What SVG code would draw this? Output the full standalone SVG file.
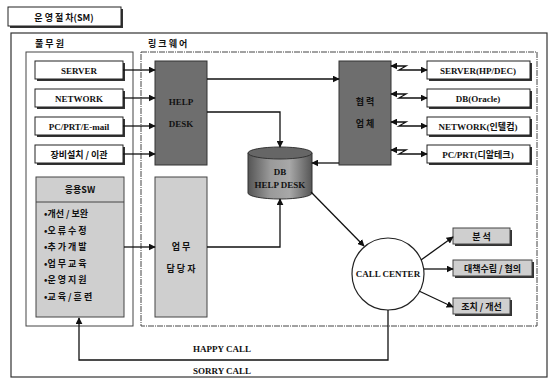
<svg xmlns="http://www.w3.org/2000/svg" width="551" height="381" viewBox="0 0 551 381">
<style>
.en{font-family:"Liberation Serif","Times New Roman",serif;font-weight:bold;font-size:9px;fill:#111}
.ko{font-family:"Noto Sans CJK KR","Noto Sans",sans-serif;font-weight:bold;font-size:9px;fill:#111}
.wbox{fill:#fff;stroke:#222;stroke-width:1}
.shadow{fill:#333}
.dark{fill:#6e6e6e;stroke:#333;stroke-width:1}
.light{fill:#cfcfcf;stroke:#444;stroke-width:1}
.panel{fill:none;stroke:#444;stroke-width:1}
.ln{fill:none;stroke:#111;stroke-width:1.3}
</style>
<defs>
<marker id="ah" viewBox="0 0 10 10" refX="9" refY="5" markerWidth="7" markerHeight="7" orient="auto-start-reverse" markerUnits="userSpaceOnUse">
<path d="M0,0 L10,5 L0,10 z" fill="#111"/>
</marker>
<linearGradient id="cyl" x1="0" y1="0" x2="1" y2="0">
<stop offset="0" stop-color="#555"/>
<stop offset="0.35" stop-color="#9a9a9a"/>
<stop offset="0.65" stop-color="#a8a8a8"/>
<stop offset="1" stop-color="#555"/>
</linearGradient>
</defs>
<rect width="551" height="381" fill="#fff"/>

<g id="title">
<rect x="10" y="9" width="113" height="19" class="shadow"/>
<rect x="8" y="7" width="113" height="19" class="wbox"/>
<text x="64" y="21" text-anchor="middle" class="ko" font-size="10.5">운 영 절 차(SM)</text>
</g>

<g id="frame">
<rect x="11" y="33" width="536" height="344" fill="none" stroke="#333" stroke-width="1.2"/>
<text x="35" y="47" class="ko" font-size="10">풀 무 원</text>
<text x="148" y="47" class="ko" font-size="10">링 크 웨 어</text>
<rect x="26" y="52" width="107" height="274" class="panel"/>
<rect x="141" y="52" width="396" height="274" class="panel" stroke-dasharray="6,1,1,1"/>
</g>

<g id="server">
<rect x="37" y="63" width="88" height="18" class="shadow"/>
<rect x="35" y="61" width="88" height="18" class="wbox"/>
<text x="79" y="73.5" text-anchor="middle" class="en">SERVER</text>
</g>
<g id="network">
<rect x="37" y="91" width="88" height="18" class="shadow"/>
<rect x="35" y="89" width="88" height="18" class="wbox"/>
<text x="79" y="101.5" text-anchor="middle" class="en">NETWORK</text>
</g>
<g id="pc">
<rect x="37" y="119" width="88" height="18" class="shadow"/>
<rect x="35" y="117" width="88" height="18" class="wbox"/>
<text x="79" y="129.5" text-anchor="middle" class="en">PC/PRT/E-mail</text>
</g>
<g id="equip">
<rect x="37" y="147" width="88" height="18" class="shadow"/>
<rect x="35" y="145" width="88" height="18" class="wbox"/>
<text x="79" y="157.5" text-anchor="middle" class="ko">장비설치 / 이관</text>
</g>

<g id="appsw">
<rect x="36" y="177" width="88" height="140" class="light"/>
<line x1="36" y1="202" x2="124" y2="202" stroke="#444" stroke-width="1"/>
<text x="80" y="193" text-anchor="middle" class="ko">응용SW</text>
<text x="44" y="217" class="ko">•개선 / 보완</text>
<text x="44" y="233.5" class="ko">•오 류 수 정</text>
<text x="44" y="250" class="ko">•추 가 개 발</text>
<text x="44" y="266.5" class="ko">•업 무 교 육</text>
<text x="44" y="283" class="ko">•운 영 지 원</text>
<text x="44" y="299.5" class="ko">•교 육 / 훈 련</text>
</g>

<g id="helpdesk">
<rect x="155" y="61" width="52" height="104" class="dark"/>
<text x="181" y="105" text-anchor="middle" class="en">HELP</text>
<text x="181" y="127" text-anchor="middle" class="en">DESK</text>
</g>

<g id="staff">
<rect x="155" y="177" width="52" height="140" class="light"/>
<text x="181" y="250" text-anchor="middle" class="ko">업 무</text>
<text x="181" y="272" text-anchor="middle" class="ko">담 당 자</text>
</g>

<g id="dbhelp">
<path d="M248,153 V193 A32,6 0 0 0 312,193 V153 Z" fill="url(#cyl)" stroke="#333"/>
<ellipse cx="280" cy="153" rx="32" ry="6" fill="#666" stroke="#333"/>
<text x="280" y="175" text-anchor="middle" class="en">DB</text>
<text x="280" y="188" text-anchor="middle" class="en">HELP DESK</text>
</g>

<g id="partner">
<rect x="339" y="61" width="52" height="104" class="dark"/>
<text x="365" y="105" text-anchor="middle" class="ko">협 력</text>
<text x="365" y="127" text-anchor="middle" class="ko">업 체</text>
</g>

<g id="srvhp">
<rect x="429" y="63" width="103" height="18" class="shadow"/>
<rect x="427" y="61" width="103" height="18" class="wbox"/>
<text x="478" y="73.5" text-anchor="middle" class="en">SERVER(HP/DEC)</text>
</g>
<g id="dbora">
<rect x="429" y="91" width="103" height="18" class="shadow"/>
<rect x="427" y="89" width="103" height="18" class="wbox"/>
<text x="478" y="101.5" text-anchor="middle" class="en">DB(Oracle)</text>
</g>
<g id="netint">
<rect x="429" y="119" width="103" height="18" class="shadow"/>
<rect x="427" y="117" width="103" height="18" class="wbox"/>
<text x="478" y="129.5" text-anchor="middle"><tspan class="en">NETWORK(</tspan><tspan class="ko">인텔컴</tspan><tspan class="en">)</tspan></text>
</g>
<g id="pcdr">
<rect x="429" y="147" width="103" height="18" class="shadow"/>
<rect x="427" y="145" width="103" height="18" class="wbox"/>
<text x="478" y="157.5" text-anchor="middle"><tspan class="en">PC/PRT(</tspan><tspan class="ko">디알테크</tspan><tspan class="en">)</tspan></text>
</g>

<g id="callcenter">
<circle cx="388" cy="274" r="36" fill="#fff" stroke="#222" stroke-width="1.2"/>
<text x="388" y="277" text-anchor="middle" class="en" font-size="8.5">CALL CENTER</text>
</g>

<g id="analysis">
<rect x="455" y="230" width="57" height="16" class="shadow"/>
<rect x="453" y="228" width="57" height="16" class="light"/>
<text x="481.5" y="239.5" text-anchor="middle" class="ko">분 석</text>
</g>
<g id="plan">
<rect x="455" y="262" width="79" height="16" class="shadow"/>
<rect x="453" y="260" width="79" height="16" class="light"/>
<text x="492.5" y="271.5" text-anchor="middle" class="ko">대책수립 / 협의</text>
</g>
<g id="action">
<rect x="455" y="300" width="57" height="16" class="shadow"/>
<rect x="453" y="298" width="57" height="16" class="light"/>
<text x="481.5" y="309.5" text-anchor="middle" class="ko">조치 / 개선</text>
</g>

<g id="connectors">
<line x1="123" y1="70" x2="155" y2="70" class="ln" marker-end="url(#ah)"/>
<line x1="123" y1="98" x2="155" y2="98" class="ln" marker-end="url(#ah)"/>
<line x1="123" y1="126" x2="155" y2="126" class="ln" marker-end="url(#ah)"/>
<line x1="123" y1="154" x2="155" y2="154" class="ln" marker-end="url(#ah)"/>
<line x1="207" y1="79" x2="339" y2="79" class="ln" marker-end="url(#ah)"/>
<polyline points="207,112 280,112 280,147" class="ln" marker-end="url(#ah)"/>
<polyline points="207,247 280,247 280,199" class="ln" marker-end="url(#ah)"/>
<line x1="124" y1="247" x2="155" y2="247" class="ln" marker-end="url(#ah)"/>
<line x1="339" y1="163" x2="312" y2="163" class="ln" marker-end="url(#ah)"/>
<line x1="311" y1="192" x2="364" y2="246" class="ln" marker-end="url(#ah)"/>
<line x1="421" y1="260" x2="453" y2="237" class="ln" marker-end="url(#ah)"/>
<line x1="424" y1="269" x2="453" y2="269" class="ln" marker-end="url(#ah)"/>
<line x1="419" y1="291" x2="453" y2="307" class="ln" marker-end="url(#ah)"/>
<polyline points="388,310 388,360 79,360 79,318" class="ln" marker-end="url(#ah)"/>
<path d="M391,66 H406 L399,70 H427" class="ln" marker-start="url(#ah)" marker-end="url(#ah)"/>
<path d="M391,94 H406 L399,98 H427" class="ln" marker-start="url(#ah)" marker-end="url(#ah)"/>
<path d="M391,122 H406 L399,126 H427" class="ln" marker-start="url(#ah)" marker-end="url(#ah)"/>
<path d="M391,150 H406 L399,154 H427" class="ln" marker-start="url(#ah)" marker-end="url(#ah)"/>
</g>

<g id="labels">
<text x="222" y="352" text-anchor="middle" class="en">HAPPY CALL</text>
<text x="222" y="374" text-anchor="middle" class="en">SORRY CALL</text>
</g>
</svg>
